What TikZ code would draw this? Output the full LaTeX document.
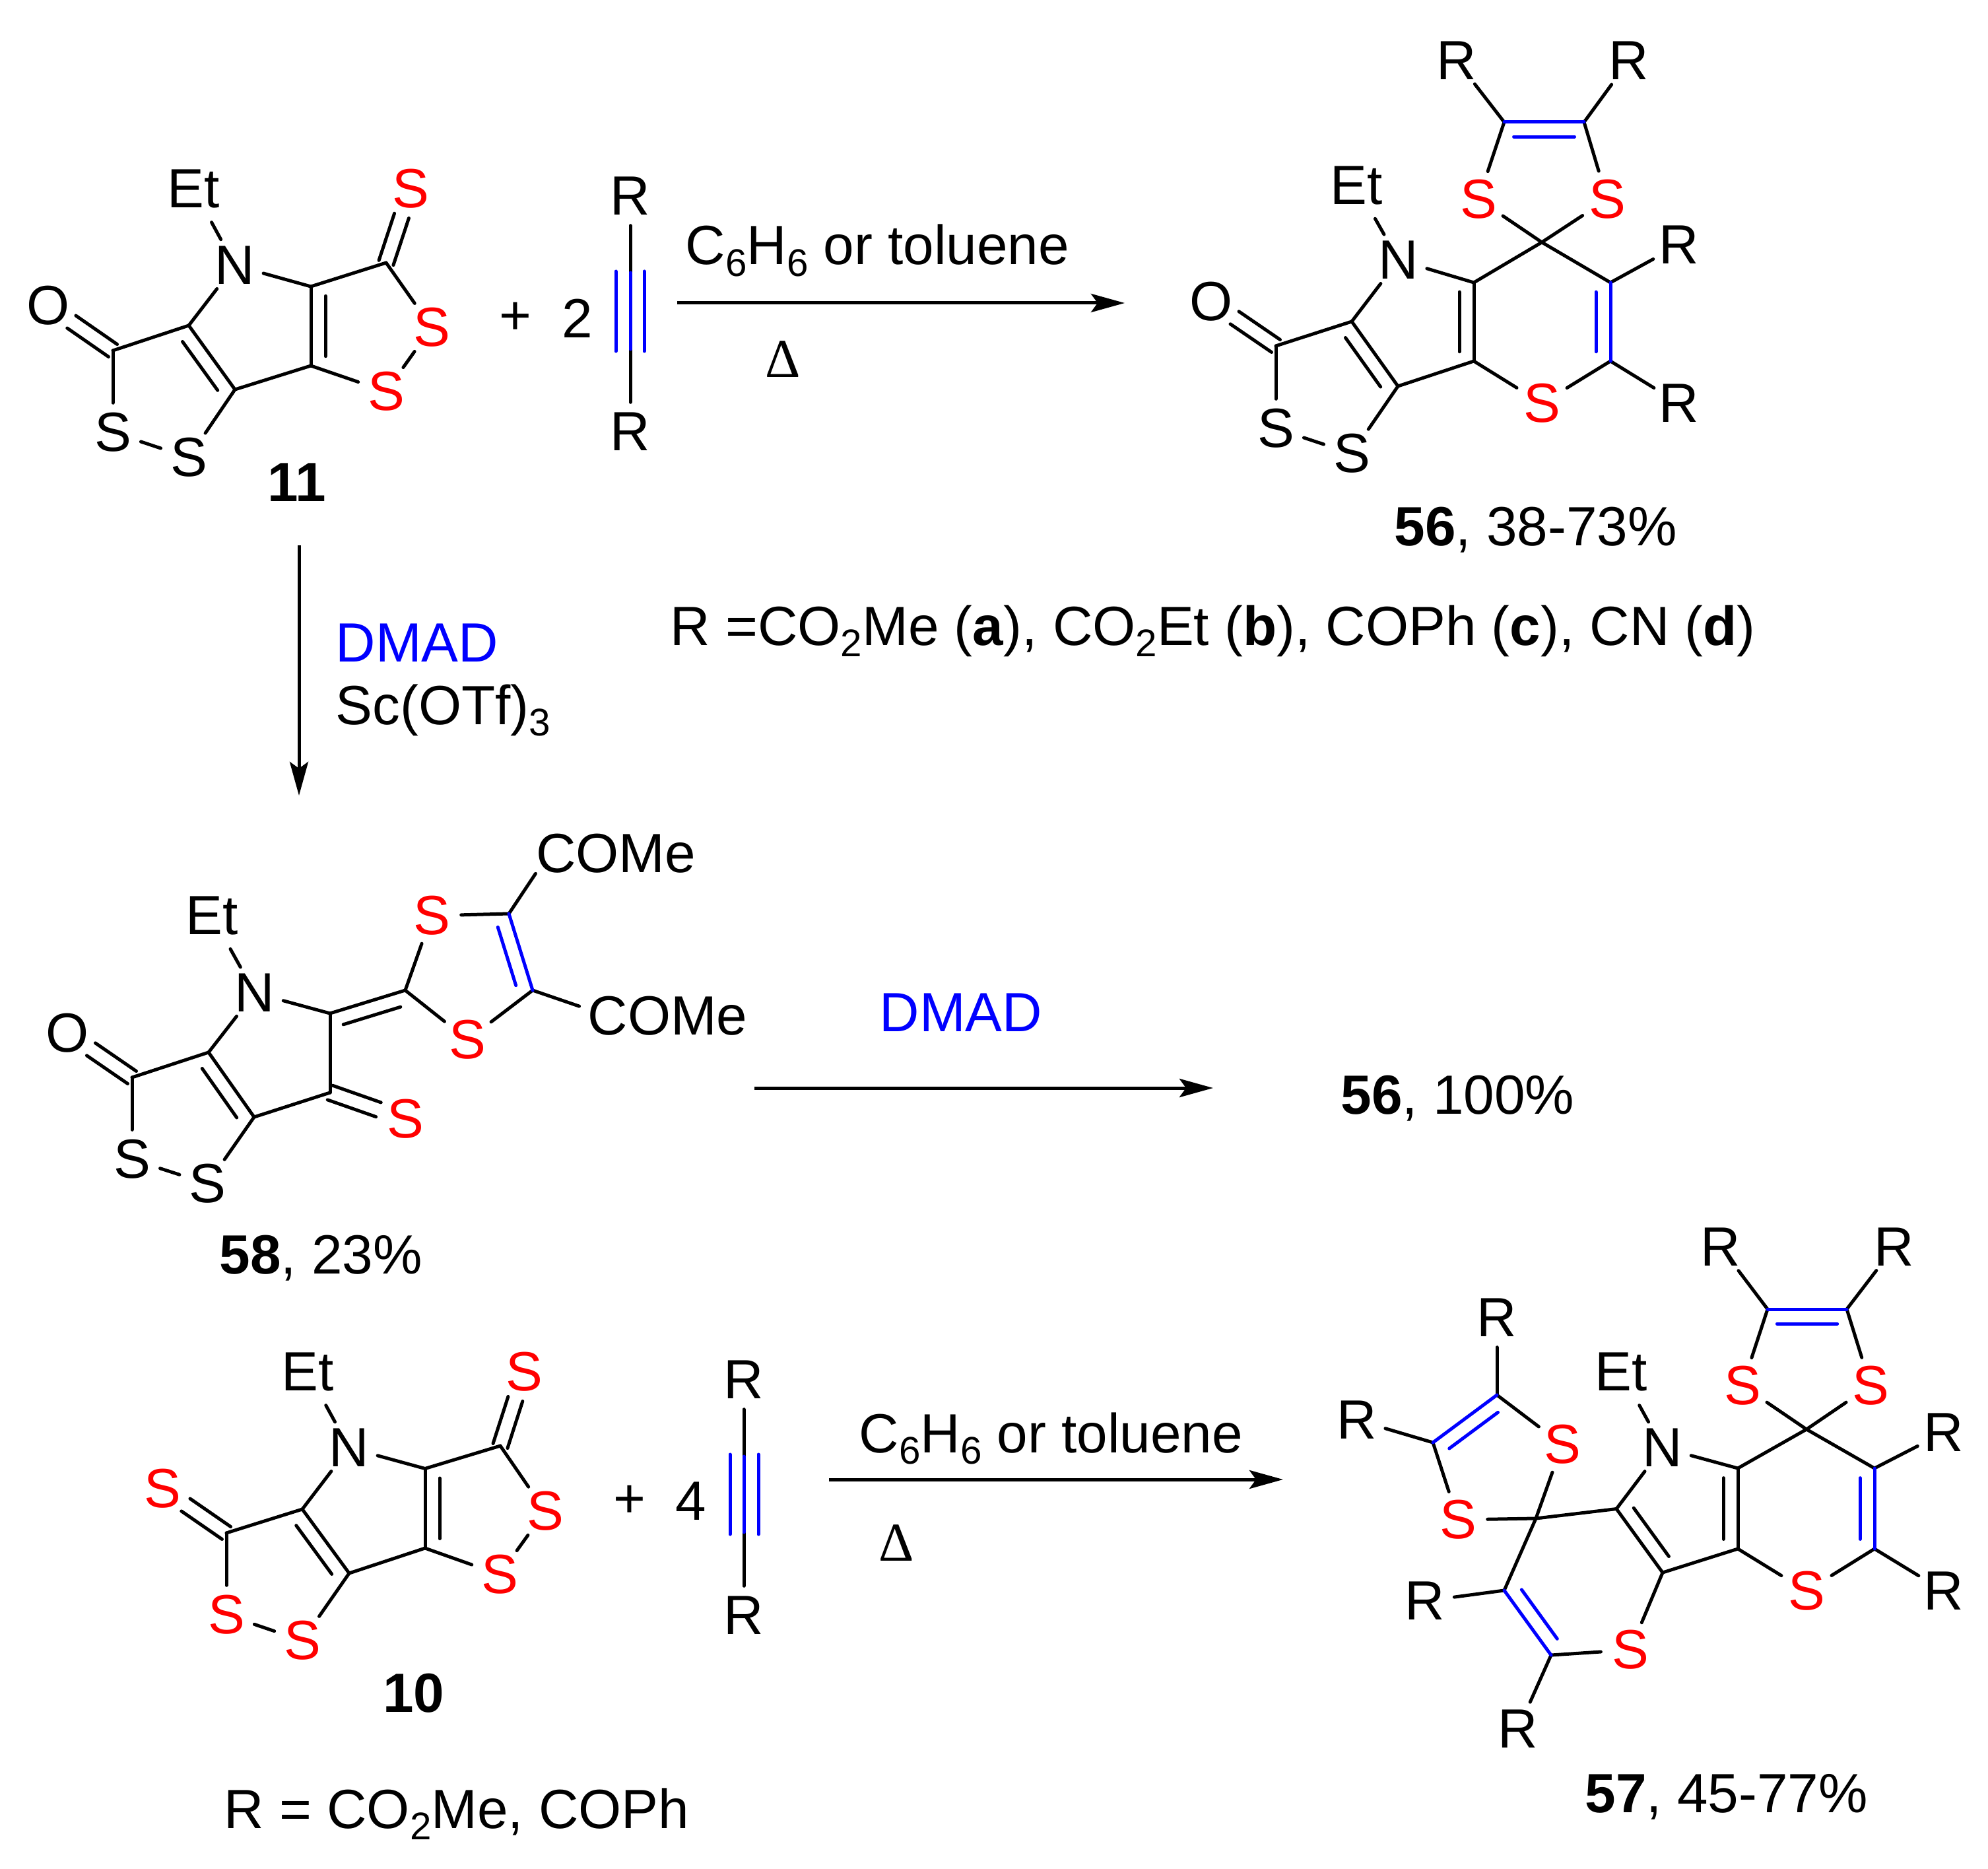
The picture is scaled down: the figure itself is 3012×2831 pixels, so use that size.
\documentclass[tikz,border=0pt]{standalone}
\usepackage{fontspec}
\setmainfont{Liberation Sans}
\newfontfamily\deltafont{Liberation Serif}
\usetikzlibrary{calc,arrows.meta}
\definecolor{rd}{RGB}{255,0,0}
\definecolor{bl}{RGB}{0,0,255}
\newcommand\chemsub[1]{\raisebox{-.21em}{\fontsize{16.6}{16.6}\selectfont #1}}
\newcommand\dblp[3][black]{\draw[bond,#1] ($(#2)!.12!(#3)!.22cm!90:(#3)$) -- ($(#3)!.12!(#2)!.22cm!-90:(#2)$);}
\newcommand\dbln[3][black]{\draw[bond,#1] ($(#2)!.12!(#3)!.22cm!-90:(#3)$) -- ($(#3)!.12!(#2)!.22cm!90:(#2)$);}
\newcommand\dblx[2]{%
  \draw[bond] ($(#1)!.115cm!90:(#2)$) -- ($(#2)!.43cm!(#1)!.115cm!-90:(#1)$);
  \draw[bond] ($(#1)!.115cm!-90:(#2)$) -- ($(#2)!.43cm!(#1)!.115cm!90:(#1)$);}
\newcommand\bonds[1]{\foreach \p/\q in {#1} \draw[bond] (\p) -- (\q);}
\newcommand\carbons[1]{\foreach \n/\cx/\cy in {#1} \coordinate (\n) at (\cx,\cy);}
\begin{document}
\begin{tikzpicture}[x=0.01cm,y=-0.01cm,
  txt/.style={font=\fontsize{23.8}{28}\selectfont,inner sep=0pt,text=black},
  atom/.style={txt,circle,minimum size=.88cm},
  sred/.style={atom,text=rd},
  ethyl/.style={txt,circle,minimum size=1.14cm},
  lbl/.style={txt,anchor=base west},
  bond/.style={line width=.05cm,line cap=round,line join=round},
  arr/.style={line width=.05cm,-{Stealth[length=.51cm,width=.28cm,inset=.1cm]}},
  dlt/.style={inner sep=0pt,font=\fontsize{23.6}{27}\deltafont}]
\useasboundingbox (0,0) rectangle (3012,2831);

% ---------- compound 11 ----------
\node[atom] (aN) at (356,402) {N};
\node[ethyl] (aEt) at (293,286) {Et};
\node[atom] (aO) at (73,463) {O};
\node[sred] (aS1) at (622,286) {S};
\node[sred] (aS2) at (654,496) {S};
\node[sred] (aS3) at (585,593) {S};
\node[atom] (aS4) at (171,655) {S};
\node[atom] (aS5) at (286,693) {S};
\carbons{aa/471/434,ab/471/554,ac/585/398,ad/286/493,ae/356/590,af/171/531}
\bonds{aEt/aN,aN/aa,aN/ad,aa/ac,aa/ab,ab/ae,ae/ad,ad/af,af/aS4,aS4/aS5,aS5/ae,ac/aS2,aS2/aS3,aS3/ab}
\dblp{aa}{ab}
\dbln{ad}{ae}
\dblx{ac}{aS1}
\dblx{af}{aO}
\node[txt,anchor=base,font=\fontsize{23.8}{28}\selectfont\bfseries] (lab11) at (450,759) {11};
\node[txt] (plus1) at (781,482) {+};
\node[txt] (two) at (875,482) {2};
\node[atom] (yR1) at (955,297) {R};
\node[atom] (yR2) at (955,654) {R};
\carbons{yt/955/413,yb/955/529,ylt/933/411,ylb/933/532,yrt/976/411,yrb/976/532}
\bonds{yR1/yt,yb/yR2}
\draw[bond,bl] (yt) -- (yb);
\draw[bond,bl] (ylt) -- (ylb);
\draw[bond,bl] (yrt) -- (yrb);
\coordinate (r1s) at (1026,459);
\coordinate (r1e) at (1704,459);
\draw[arr] (r1s) -- (r1e);
\node[lbl] (r1t) at (1038,401) {C\chemsub{6}H\chemsub{6} or toluene};
\node[dlt] (r1d) at (1186,544) {Δ};

% ---------- compound 56 ----------
\node[atom] (bR1) at (2207,92) {R};
\node[atom] (bR2) at (2468,92) {R};
\node[sred] (bS1) at (2240,302) {S};
\node[sred] (bS2) at (2435,302) {S};
\node[ethyl] (bEt) at (2055,281) {Et};
\node[atom] (bN) at (2119,394) {N};
\node[atom] (bR3) at (2544,371) {R};
\node[atom] (bR4) at (2544,611) {R};
\node[sred] (bS3) at (2336,611) {S};
\node[atom] (bO) at (1835,457) {O};
\node[atom] (bS4) at (1933,649) {S};
\node[atom] (bS5) at (2048,687) {S};
\carbons{bc3/2279/185,bc4/2400/185,bsp/2336/367,bc/2233/428,bd/2440/428,be/2233/547,bg/2440/547,bh/2048/487,bi/2118/585,bf/1933/524}
\bonds{bR1/bc3,bR2/bc4,bc3/bS1,bc4/bS2,bS1/bsp,bS2/bsp,bsp/bc,bsp/bd,bd/bR3,bg/bR4,bg/bS3,bS3/be,bc/be,bc/bN,bN/bEt,bN/bh,bh/bi,bi/be,bh/bf,bf/bS4,bS4/bS5,bS5/bi}
\draw[bond,bl] (bc3) -- (bc4);
\draw[bond,bl] (bd) -- (bg);
\dbln[bl]{bc3}{bc4}
\dbln[bl]{bd}{bg}
\dbln{bc}{be}
\dbln{bh}{bi}
\dblx{bf}{bO}
\node[lbl] (lab56) at (2112,827) {\textbf{56}, 38-73\%};
\node[lbl] (rdef) at (1015,977) {R =CO\chemsub{2}Me (\textbf{a}), CO\chemsub{2}Et (\textbf{b}), COPh (\textbf{c}), CN (\textbf{d})};

% ---------- step to 58 ----------
\coordinate (r2s) at (453,826);
\coordinate (r2e) at (453,1205);
\draw[arr] (r2s) -- (r2e);
\node[lbl,text=bl] (r2a) at (508,1002) {DMAD};
\node[lbl] (r2b) at (508,1097) {Sc(OTf)\chemsub{3}};

% ---------- compound 58 ----------
\node[txt] (cM1) at (933,1293) {COMe};
\node[txt] (cM2) at (1011.5,1539) {COMe};
\node[sred] (cS1) at (654,1387) {S};
\node[sred] (cS2) at (708.5,1575) {S};
\node[ethyl] (cEt) at (321,1387) {Et};
\node[atom] (cN) at (386,1504) {N};
\node[atom] (cO) at (102.5,1565) {O};
\node[sred] (cS3) at (614,1695) {S};
\node[atom] (cS4) at (200,1756) {S};
\node[atom] (cS5) at (314.5,1793) {S};
\carbons{cc1/771/1384,cc2/807/1500,cx/614/1500,cy/500/1535,cf/200/1632,cd/316/1594,ce/385/1692,cc/500/1655}
\draw[bond] (cc1) -- (cM1.south west);
\draw[bond,shorten >=.13cm] (cc2) -- (cM2.175);
\bonds{cc1/cS1,cS1/cx,cx/cS2,cS2/cc2,cx/cy,cN/cy,cy/cc,cc/ce,ce/cd,cd/cN,cN/cEt,cd/cf,cf/cS4,cS4/cS5,cS5/ce}
\draw[bond,bl] (cc1) -- (cc2);
\dbln[bl]{cc1}{cc2}
\dbln{cy}{cx}
\dbln{cd}{ce}
\dblx{cc}{cS3}
\dblx{cf}{cO}
\node[lbl] (lab58) at (332,1929) {\textbf{58}, 23\%};
\coordinate (r3s) at (1143,1648);
\coordinate (r3e) at (1838,1648);
\draw[arr] (r3s) -- (r3e);
\node[lbl,text=bl] (r3a) at (1332,1562) {DMAD};
\node[lbl] (lab56b) at (2031,1687) {\textbf{56}, 100\%};

% ---------- compound 10 ----------
\node[ethyl] (dEt) at (466,2078) {Et};
\node[atom] (dN) at (529,2193) {N};
\node[sred] (dS1) at (794,2078) {S};
\node[sred] (dS2) at (826,2289) {S};
\node[sred] (dS3) at (757,2385) {S};
\node[sred] (dS4) at (246,2255) {S};
\node[sred] (dS5) at (343,2446) {S};
\node[sred] (dS6) at (458,2485) {S};
\carbons{da/644/2224.5,db/644/2345,dc/758/2190,dd/458/2286,de/529/2383,df/343/2322}
\bonds{dEt/dN,dN/da,dN/dd,da/dc,da/db,db/de,de/dd,dd/df,df/dS5,dS5/dS6,dS6/de,dc/dS2,dS2/dS3,dS3/db}
\dblp{da}{db}
\dbln{dd}{de}
\dblx{dc}{dS1}
\dblx{df}{dS4}
\node[txt,anchor=base,font=\fontsize{23.8}{28}\selectfont\bfseries] (lab10) at (627,2593) {10};
\node[txt] (plus2) at (953.5,2274) {+};
\node[txt] (four) at (1047,2274) {4};
\node[atom] (zR1) at (1127,2090) {R};
\node[atom] (zR2) at (1127,2447) {R};
\carbons{zt/1127/2206,zb/1127/2321,zlt/1106/2203,zlb/1106/2324,zrt/1149/2203,zrb/1149/2324}
\bonds{zR1/zt,zb/zR2}
\draw[bond,bl] (zt) -- (zb);
\draw[bond,bl] (zlt) -- (zlb);
\draw[bond,bl] (zrt) -- (zrb);
\node[lbl] (rdef2) at (339,2769) {R = CO\chemsub{2}Me, COPh};
\coordinate (r4s) at (1256,2241);
\coordinate (r4e) at (1944,2241);
\draw[arr] (r4s) -- (r4e);
\node[lbl] (r4t) at (1301,2200) {C\chemsub{6}H\chemsub{6} or toluene};
\node[dlt] (r4d) at (1358,2337) {Δ};

% ---------- compound 57 ----------
\node[atom] (eR1) at (2607,1889) {R};
\node[atom] (eR2) at (2870,1889) {R};
\node[sred] (eS1) at (2640,2099) {S};
\node[sred] (eS2) at (2834,2099) {S};
\node[ethyl] (eEt) at (2456,2078) {Et};
\node[atom] (eN) at (2519,2193) {N};
\node[atom] (eR3) at (2945,2170) {R};
\node[atom] (eR4) at (2945,2410) {R};
\node[sred] (eS3) at (2737,2410) {S};
\node[sred] (eS4) at (2367,2188) {S};
\node[sred] (eS5) at (2209,2302) {S};
\node[atom] (eR5) at (2268,1996) {R};
\node[atom] (eR6) at (2056,2151) {R};
\node[sred] (eS6) at (2470,2499) {S};
\node[atom] (eR7) at (2159,2425) {R};
\node[atom] (eR8) at (2300,2619) {R};
\carbons{ep/2678/1983,eq/2798/1983,esp/2737/2165,ec/2633/2224,ed/2840/2224,ee/2633/2346,eg/2840/2346,eh/2449/2285.5,ei/2519/2382,esq/2327/2300,er/2268/2113,es/2171/2185,et/2279/2409,eu/2350/2507}
\bonds{eR1/ep,eR2/eq,ep/eS1,eq/eS2,eS1/esp,eS2/esp,esp/ec,esp/ed,ed/eR3,eg/eR4,eg/eS3,eS3/ee,ec/ee,ec/eN,eN/eEt,eN/eh,eh/ei,ei/ee,eh/esq,esq/eS4,esq/eS5,eS4/er,eS5/es,er/eR5,es/eR6,esq/et,et/eR7,eu/eR8,eu/eS6,eS6/ei}
\draw[bond,bl] (ep) -- (eq);
\draw[bond,bl] (ed) -- (eg);
\draw[bond,bl] (er) -- (es);
\draw[bond,bl] (et) -- (eu);
\dbln[bl]{ep}{eq}
\dbln[bl]{ed}{eg}
\dbln{ec}{ee}
\dblp{eh}{ei}
\dblp[bl]{er}{es}
\dblp[bl]{et}{eu}
\node[lbl] (lab57) at (2401,2745) {\textbf{57}, 45-77\%};
\end{tikzpicture}
\end{document}
